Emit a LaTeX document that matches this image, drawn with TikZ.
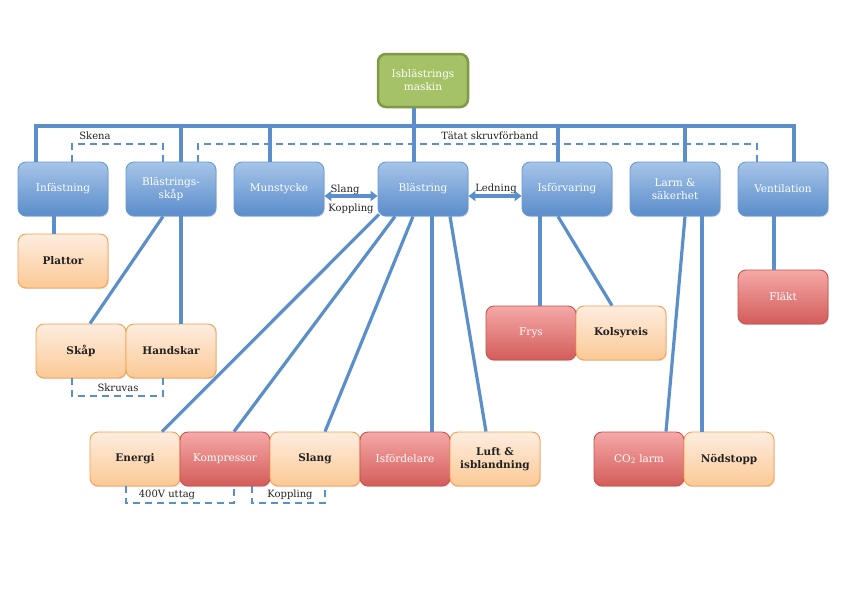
\documentclass[tikz,border=0pt]{standalone}
\usepackage{fontspec}
\setmainfont{DejaVu Serif}
\usetikzlibrary{shadows,arrows.meta,calc}
\definecolor{lnblue}{HTML}{5B8FC9}
\definecolor{bTop}{HTML}{A6C4E8}
\definecolor{bBot}{HTML}{5A8DCB}
\definecolor{bBrd}{HTML}{6A9AD3}
\definecolor{oTop}{HTML}{FEEDE0}
\definecolor{oBot}{HTML}{FBC995}
\definecolor{oBrd}{HTML}{F7A04E}
\definecolor{rTop}{HTML}{F5A9A8}
\definecolor{rBot}{HTML}{D35C59}
\definecolor{rBrd}{HTML}{C9514E}
\definecolor{gFill}{HTML}{A5C266}
\definecolor{gBrd}{HTML}{7E9A45}
\definecolor{txt}{HTML}{222222}
\tikzset{
  basebox/.style={minimum width=90pt, minimum height=54pt, inner sep=1pt, rounded corners=8pt,
    align=center, font=\fontsize{10.5}{13}\selectfont, line width=0.9pt,
    drop shadow={opacity=0.25, shadow xshift=0.8pt, shadow yshift=-1.2pt}},
  bluebox/.style={basebox, draw=bBrd, top color=bTop, bottom color=bBot, text=white},
  orgbox/.style={basebox, draw=oBrd, top color=oTop, bottom color=oBot, text=txt, font=\fontsize{10.5}{13}\selectfont\bfseries},
  redbox/.style={basebox, draw=rBrd, top color=rTop, bottom color=rBot, text=white},
  greenbox/.style={basebox, minimum height=53pt, draw=gBrd, fill=gFill, text=white, line width=2.5pt},
  conn/.style={draw=lnblue, line width=3.2pt},
  dconn/.style={draw=lnblue, line width=2.8pt, dash pattern=on 7pt off 5pt},
  lbl/.style={text=txt, font=\fontsize{10}{12}\selectfont, inner sep=1pt},
  dblarrow/.style={conn, {Triangle[width=10pt,length=7pt]}-{Triangle[width=10pt,length=7pt]}}
}
\begin{document}
\begin{tikzpicture}[x=1pt,y=-1pt]
\useasboundingbox[fill=white] (0,0) rectangle (842,595);
% nodes
\node[greenbox] (root) at (423,80.5) {Isblästrings\\maskin};
\node[bluebox] (inf)  at (63,189)  {Infästning};
\node[bluebox] (skap) at (171,189) {Blästrings-\\skåp};
\node[bluebox] (mun)  at (279,189) {Munstycke};
\node[bluebox] (bl)   at (423,189) {Blästring};
\node[bluebox] (isf)  at (567,189) {Isförvaring};
\node[bluebox] (larm) at (675,189) {Larm \&\\säkerhet};
\node[bluebox] (vent) at (783,189) {Ventilation};
\node[orgbox] (plat) at (63,261) {Plattor};
\node[orgbox] (skaap) at (81,351) {Skåp};
\node[orgbox] (hand) at (171,351) {Handskar};
\node[redbox] (frys) at (531,333) {Frys};
\node[orgbox] (kols) at (621,333) {Kolsyreis};
\node[redbox] (flakt) at (783,297) {Fläkt};
\node[orgbox] (energi) at (135,459) {Energi};
\node[redbox] (komp) at (225,459) {Kompressor};
\node[orgbox] (slang) at (315,459) {Slang};
\node[redbox] (isfd) at (405,459) {Isfördelare};
\node[orgbox] (luft) at (495,459) {Luft \&\\isblandning};
\node[redbox] (co2) at (639,459) {CO\textsubscript{2} larm};
\node[orgbox] (nod) at (729,459) {Nödstopp};
% bus
\coordinate (bus) at (0,126);
\coordinate (dl) at (0,144);
\coordinate (db) at (0,396);
\coordinate (db2) at (0,503);
\coordinate (r0) at ([xshift=-9pt]root.south);
\coordinate (t1) at ([xshift=-27pt]inf.north);
\coordinate (t2) at ([xshift=10pt]skap.north);
\coordinate (t3) at ([xshift=-9pt]mun.north);
\coordinate (t4) at ([xshift=-9pt]bl.north);
\coordinate (t5) at ([xshift=-9pt]isf.north);
\coordinate (t6) at ([xshift=10pt]larm.north);
\coordinate (t7) at ([xshift=11pt]vent.north);
\path[conn] (r0) -- (t4);
\path[conn] (t1) -- (t1 |- bus) -- (t7 |- bus) -- (t7);
\foreach \t in {t2,t3,t5,t6} { \path[conn] (\t) -- (\t |- bus); }
% dashed top
\coordinate (s1) at ([xshift=9pt]inf.north);
\coordinate (s2) at ([xshift=-8pt]skap.north);
\path[dconn] (s1) -- (s1 |- dl) -- (s2 |- dl) -- (s2);
\coordinate (u1) at ([xshift=27pt]skap.north);
\coordinate (u2) at ([xshift=-26pt]vent.north);
\path[dconn] (u1) -- (u1 |- dl) -- (u2 |- dl) -- (u2);
\node[lbl] (skena) at (95,136) {Skena};
\node[lbl] (tatat) at (490,136) {Tätat skruvförband};
% arrows
\path[dblarrow] ([yshift=-7pt]mun.east) -- ([yshift=-7pt]bl.west);
\path[dblarrow] ([yshift=-7pt]bl.east) -- ([yshift=-7pt]isf.west);
\node[lbl] (slangl) at (345,190) {Slang};
\node[lbl] (koppl) at (351,209) {Koppling};
\node[lbl] (ledn) at (496,189) {Ledning};
% second level
\path[conn] ([xshift=-9pt]inf.south) -- ([xshift=-9pt]plat.north);
\path[conn] ([xshift=-8pt]skap.south) -- ([xshift=9pt]skaap.north);
\path[conn] ([xshift=10pt]skap.south) -- ([xshift=10pt]hand.north);
\path[conn] ([xshift=-9pt]vent.south) -- ([xshift=-9pt]flakt.north);
\path[conn] ([xshift=-27pt]isf.south) -- ([xshift=9pt]frys.north);
\path[conn] ([xshift=-9pt]isf.south) -- ([xshift=-9pt]kols.north);
\path[conn] ([xshift=10pt]larm.south) -- ([xshift=27pt]co2.north);
\path[conn] ([xshift=27pt]larm.south) -- ([xshift=-27pt]nod.north);
\path[conn] ([xshift=-44pt,yshift=2pt]bl.south) -- ([xshift=27pt]energi.north);
\path[conn] ([xshift=-28pt]bl.south) -- ([xshift=9pt]komp.north);
\path[conn] ([xshift=-10pt]bl.south) -- ([xshift=10pt]slang.north);
\path[conn] ([xshift=9pt]bl.south) -- ([xshift=27pt]isfd.north);
\path[conn] ([xshift=27pt]bl.south) -- ([xshift=-9pt]luft.north);
% bottom dashed
\coordinate (k1) at ([xshift=-9pt]skaap.south);
\coordinate (k2) at ([xshift=-8pt]hand.south);
\path[dconn] (k1) -- (k1 |- db) -- (k2 |- db) -- (k2);
\node[lbl] (skruv) at (118,388) {Skruvas};
\coordinate (e1) at ([xshift=-9pt]energi.south);
\coordinate (e2) at ([xshift=9pt]komp.south);
\path[dconn] (e1) -- (e1 |- db2) -- (e2 |- db2) -- (e2);
\coordinate (c1) at ([xshift=27pt]komp.south);
\coordinate (c2) at ([xshift=10pt]slang.south);
\path[dconn] (c1) -- (c1 |- db2) -- (c2 |- db2) -- (c2);
\node[lbl] (uttag) at (167,495) {400V uttag};
\node[lbl] (kopp2) at (290,495) {Koppling};
\end{tikzpicture}
\end{document}
